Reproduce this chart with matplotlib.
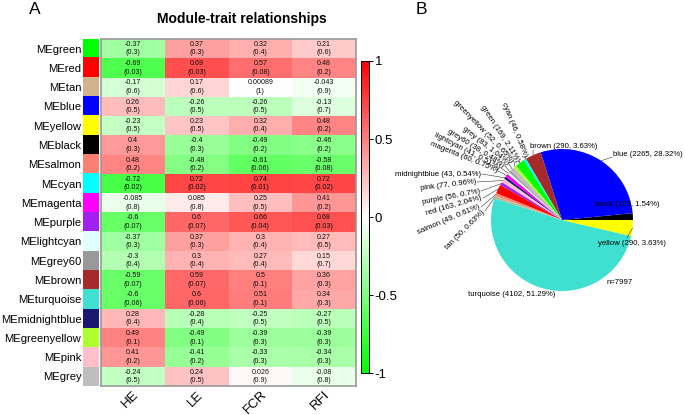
import numpy as np
import matplotlib
matplotlib.use('Agg')
import matplotlib.pyplot as plt
from matplotlib.colors import LinearSegmentedColormap, to_rgb

plt.rcParams['font.family'] = ['Liberation Sans', 'DejaVu Sans']

# ---------------- data ----------------
modules = ['green', 'red', 'tan', 'blue', 'yellow', 'black', 'salmon', 'cyan',
           'magenta', 'purple', 'lightcyan', 'grey60', 'brown', 'turquoise',
           'midnightblue', 'greenyellow', 'pink', 'grey']
traits = ['HE', 'LE', 'FCR', 'RFI']

cor_HE = [-0.37, -0.69, -0.17, 0.26, -0.23, 0.4, 0.48, -0.72, -0.085, -0.6,
          -0.37, -0.3, -0.59, -0.6, 0.28, 0.49, 0.41, -0.24]
cor_LE = [0.37, 0.69, 0.17, -0.26, 0.23, -0.4, -0.48, 0.72, 0.085, 0.6,
          0.37, 0.3, 0.59, 0.6, -0.28, -0.49, -0.41, 0.24]
cor_FCR = [0.32, 0.57, 0.00089, -0.26, 0.32, -0.49, -0.61, 0.74, 0.25, 0.66,
           0.3, 0.27, 0.5, 0.51, -0.25, -0.39, -0.33, 0.026]
cor_RFI = [0.21, 0.48, -0.043, -0.13, 0.48, -0.46, -0.58, 0.72, 0.41, 0.68,
           0.27, 0.15, 0.36, 0.34, -0.27, -0.39, -0.34, -0.08]

p_HE = [0.3, 0.03, 0.6, 0.5, 0.5, 0.3, 0.2, 0.02, 0.8, 0.07,
        0.3, 0.4, 0.07, 0.06, 0.4, 0.1, 0.2, 0.5]
p_LE = [0.3, 0.03, 0.6, 0.5, 0.5, 0.3, 0.2, 0.02, 0.8, 0.07,
        0.3, 0.4, 0.07, 0.06, 0.4, 0.1, 0.2, 0.5]
p_FCR = [0.4, 0.08, 1, 0.5, 0.4, 0.2, 0.06, 0.01, 0.5, 0.04,
         0.4, 0.4, 0.1, 0.1, 0.5, 0.3, 0.3, 0.9]
p_RFI = [0.6, 0.2, 0.9, 0.7, 0.2, 0.2, 0.08, 0.02, 0.2, 0.03,
         0.5, 0.7, 0.3, 0.3, 0.5, 0.3, 0.3, 0.8]

pie_modules = ['black', 'blue', 'brown', 'cyan', 'green', 'greenyellow', 'grey',
               'grey60', 'lightcyan', 'magenta', 'midnightblue', 'pink', 'purple',
               'red', 'salmon', 'tan', 'turquoise', 'yellow']
pie_counts = [123, 2265, 290, 46, 169, 52, 83, 38, 41, 60, 43, 77, 56, 163,
              49, 50, 4102, 290]

# R colour definitions
r_colors = {
    'green': '#00FF00', 'red': '#FF0000', 'tan': '#D2B48C', 'blue': '#0000FF',
    'yellow': '#FFFF00', 'black': '#000000', 'salmon': '#FA8072', 'cyan': '#00FFFF',
    'magenta': '#FF00FF', 'purple': '#A020F0', 'lightcyan': '#E0FFFF',
    'grey60': '#999999', 'brown': '#A52A2A', 'turquoise': '#40E0D0',
    'midnightblue': '#191970', 'greenyellow': '#ADFF2F', 'pink': '#FFC0CB',
    'grey': '#BEBEBE'}

cor = np.array([cor_HE, cor_LE, cor_FCR, cor_RFI]).T
pv = np.array([p_HE, p_LE, p_FCR, p_RFI]).T

W, H = 685, 415
fig = plt.figure(figsize=(W / 100, H / 100), dpi=100)

def fx(x):
    return x / W

def fy(y):
    return 1 - y / H

# ---------------- heatmap ----------------
hx0, hx1, hy0, hy1 = 101, 356, 39, 386
ax = fig.add_axes([fx(hx0), fy(hy1), (hx1 - hx0) / W, (hy1 - hy0) / H])
cmap = LinearSegmentedColormap.from_list('gwr', ['#00FF00', '#FFFFFF', '#FF0000'])
mesh = ax.pcolormesh(cor, cmap=cmap, vmin=-1, vmax=1)
ax.set_xlim(0, len(traits))
ax.set_ylim(len(modules), 0)
for i in range(len(modules)):
    for j in range(len(traits)):
        ax.text(j + 0.5, i + 0.5, f"{cor[i, j]:.2g}\n({pv[i, j]:.2g})",
                ha='center', va='center', fontsize=5.1, linespacing=1.3,
                color='#111111')
for s in ax.spines.values():
    s.set_color('#999999')
    s.set_linewidth(1.2)
ax.set_yticks([])
ax.set_xticks(np.arange(len(traits)) + 0.5)
ax.set_xticklabels(traits, rotation=45, ha='right', va='top',
                   rotation_mode='anchor', fontsize=9.5)
ax.tick_params(axis='x', length=0, pad=2)

# side colour column
sax = fig.add_axes([fx(83), fy(hy1), 16 / W, (hy1 - hy0) / H])
side = np.array([[to_rgb(r_colors[m])] for m in modules])
sax.imshow(side, aspect='auto', interpolation='nearest',
           extent=(0, 1, len(modules), 0))
sax.set_xticks([])
sax.set_yticks(np.arange(len(modules)) + 0.5)
sax.set_yticklabels(['ME' + m for m in modules], fontsize=8.1)
sax.tick_params(axis='y', length=0, pad=1.2)
for s in sax.spines.values():
    s.set_visible(False)

# colour bar
cax = fig.add_axes([fx(361), fy(373), 8 / W, (373 - 61) / H])
cb = fig.colorbar(mesh, cax=cax, ticks=[-1, -0.5, 0, 0.5, 1])
cb.ax.set_yticklabels(['-1', '-0.5', '0', '0.5', '1'])
cb.ax.tick_params(labelsize=9.5, length=3, width=0.7, pad=1)
cb.outline.set_linewidth(0.7)

fig.text(fx(242), fy(19), 'Module-trait relationships', ha='center',
         va='center', fontsize=10, fontweight='bold')
fig.text(fx(35), fy(9), 'A', ha='center', va='center', fontsize=12.5)
fig.text(fx(421), fy(9), 'B', ha='center', va='center', fontsize=12.5)

# ---------------- pie ----------------
pax = fig.add_axes([fx(380), 0, (W - 380) / W, 1])
pcx, pcy, pr = 562, H - 220, 71
pax.pie(pie_counts, colors=[r_colors[m] for m in pie_modules], startangle=0,
        counterclock=True, radius=pr, center=(pcx, pcy),
        wedgeprops=dict(linewidth=0))
pax.set_aspect('auto')
pax.set_xlim(380, W)
pax.set_ylim(0, H)
pax.axis('off')

total = sum(pie_counts)
cum = np.cumsum([0] + pie_counts)
mid_ang = {m: np.deg2rad(360 * (cum[k] + cum[k + 1]) / 2 / total)
           for k, m in enumerate(pie_modules)}

def lab(m):
    c = pie_counts[pie_modules.index(m)]
    p = round(100 * c / total, 2)
    return f"{m} ({c}, {p:g}%)"

# small slices: rotated labels (image coords of text end, rotation)
small_layout = {
    'cyan': (525, 157, -68), 'green': (518, 161, -57),
    'greenyellow': (513, 162, -46), 'grey': (508, 164, -38),
    'grey60': (504, 166, -32), 'lightcyan': (500, 168, -27),
    'magenta': (497, 171, -22), 'midnightblue': (481, 174, 0),
    'pink': (476, 182, 7), 'purple': (480, 191, 11), 'red': (482, 198, 16),
    'salmon': (480, 207, 23), 'tan': (484, 211, 45)}
pfs = 5.6
for m, (x, y, rot) in small_layout.items():
    Y = H - y
    pax.text(x, Y, lab(m), rotation=rot, rotation_mode='anchor', ha='right',
             va='center', fontsize=pfs)
    a = mid_ang[m]
    ex, ey = pcx + pr * np.cos(a), pcy + pr * np.sin(a)
    pax.plot([x + 1, ex], [Y, ey], color='#333333', lw=0.4)

# large slices: horizontal labels (anchor x, y, ha, line start)
big_layout = {
    'brown': (530, 146, 'left', (533, 150)),
    'blue': (613, 155, 'left', (612, 157)),
    'black': (595, 204, 'left', (629, 210)),
    'yellow': (598, 243, 'left', (627, 238)),
    'turquoise': (512, 294, 'center', None)}
for m, (x, y, ha, ls) in big_layout.items():
    pax.text(x, H - y, lab(m), ha=ha, va='center', fontsize=pfs)
    if ls is not None:
        a = mid_ang[m]
        ex, ey = pcx + pr * np.cos(a), pcy + pr * np.sin(a)
        pax.plot([ls[0], ex], [H - ls[1], ey], color='#333333', lw=0.4)

pax.text(620, H - 283, f"n={total}", ha='center', va='center', fontsize=pfs)

fig.savefig('out.png', dpi=100)
